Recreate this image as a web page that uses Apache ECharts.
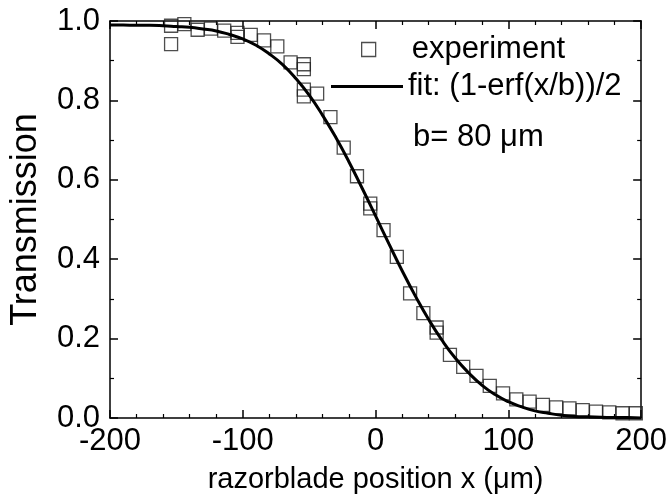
<!DOCTYPE html>
<html>
<head>
<meta charset="utf-8">
<script src="https://cdn.jsdelivr.net/npm/echarts@6/dist/echarts.min.js"></script>
<style>html,body{margin:0;padding:0;background:#fff}#c{width:670px;height:499px}</style>
</head>
<body>
<div id="c"></div>
<script>
// Experimental points (x in µm, transmission)
const expX = [-154,-154,-144,-134,-124,-114,-104,-104,-94,-84,-74,-64,-54,-54,-54,-54,-44,-34,-24,-14,-4,-4,6,16,26,36,46,46,56,66,76,86,96,106,116,126,136,146,156,166,176,186,196];
const expY = [0.988,0.942,0.992,0.978,0.981,0.976,0.970,0.960,0.965,0.951,0.936,0.896,0.891,0.879,0.827,0.810,0.817,0.758,0.681,0.609,0.540,0.528,0.473,0.406,0.314,0.264,0.228,0.215,0.159,0.129,0.106,0.081,0.062,0.047,0.041,0.033,0.027,0.024,0.020,0.016,0.014,0.012,0.012];
// Fit curve
const fitX = [-200,-190,-180,-170,-160,-150,-140,-130,-120,-110,-100,-90,-80,-70,-60,-50,-40,-30,-20,-10,0,10,20,30,40,50,60,70,80,90,100,110,120,130,140,150,160,170,180,190,200];
const fitY = [0.990,0.990,0.989,0.989,0.988,0.986,0.984,0.980,0.975,0.966,0.955,0.939,0.917,0.890,0.855,0.813,0.763,0.707,0.645,0.578,0.509,0.439,0.371,0.307,0.248,0.196,0.151,0.114,0.083,0.059,0.041,0.028,0.018,0.012,0.007,0.004,0.003,0.002,0.001,0.001,0.000];
const xTicks = [-200,-100,0,100,200];
const yTicks = [0.0,0.2,0.4,0.6,0.8,1.0];
const expName = 'experiment';
const fitName = 'fit: (1-erf(x/b))/2';
const noteText = 'b= 80 \u03bcm';

const FONT = 'Liberation Sans, Arial, sans-serif';
const chart = echarts.init(document.getElementById('c'), null, {renderer: 'canvas'});
const axLine = {show: true, onZero: false, lineStyle: {color: '#000', width: 1.5}};
const baseX = {
  type: 'value', min: xTicks[0], max: xTicks[xTicks.length-1], interval: 100,
  axisLine: axLine, splitLine: {show: false},
  axisTick: {show: true, inside: true, length: 8, lineStyle: {color: '#000', width: 1.5}},
  minorTick: {show: true, splitNumber: 5, length: 4, lineStyle: {color: '#000', width: 1.2}},
};
const baseY = {
  type: 'value', min: yTicks[0], max: yTicks[yTicks.length-1], interval: 0.2,
  axisLine: axLine, splitLine: {show: false},
  axisTick: {show: true, inside: true, length: 8, lineStyle: {color: '#000', width: 1.5}},
  minorTick: {show: true, splitNumber: 2, length: 4, lineStyle: {color: '#000', width: 1.2}},
};
chart.setOption({
  animation: false,
  backgroundColor: '#fff',
  grid: {left: 102, right: 27, top: 21, bottom: 81, containLabel: false},
  xAxis: [
    Object.assign({}, baseX, {
      position: 'bottom',
      axisLabel: {show: true, fontSize: 31, fontFamily: FONT, color: '#000', margin: 8,
        formatter: v => String(v)},
      name: 'razorblade position x (\u03bcm)', nameLocation: 'middle', nameGap: 47,
      nameTextStyle: {fontSize: 29, fontFamily: FONT, color: '#000'}
    }),
    Object.assign({}, baseX, {position: 'top', axisLabel: {show: false}})
  ],
  yAxis: [
    Object.assign({}, baseY, {
      position: 'left',
      axisLabel: {show: true, fontSize: 31, fontFamily: FONT, color: '#000', margin: 10,
        formatter: v => v.toFixed(1)},
      name: 'Transmission', nameLocation: 'middle', nameGap: 66,
      nameTextStyle: {fontSize: 36, fontFamily: FONT, color: '#000'}
    }),
    Object.assign({}, baseY, {position: 'right', axisLabel: {show: false}})
  ],
  legend: [
    {data: [expName], left: 361, top: 34, padding: 0, itemWidth: 14, itemHeight: 14,
     icon: 'rect', itemStyle: {color: 'transparent', borderColor: '#222', borderWidth: 1.3},
     textStyle: {fontSize: 31, fontFamily: FONT, color: '#000', padding: [0,0,0,31]}},
    {data: [fitName], left: 331, top: 71, padding: 0, itemWidth: 72, itemHeight: 3,
     icon: 'rect', itemStyle: {color: '#000', borderWidth: 0},
     textStyle: {fontSize: 31, fontFamily: FONT, color: '#000'}}
  ],
  graphic: [
    {type: 'text', left: 413, top: 122, style: {text: noteText, fontSize: 31, fontFamily: FONT, fill: '#000'}}
  ],
  series: [
    {
      name: expName, type: 'scatter', xAxisIndex: 0, yAxisIndex: 0,
      symbol: 'rect', symbolSize: 13,
      itemStyle: {color: 'transparent', borderColor: '#222', borderWidth: 1.3},
      data: expX.map((x, i) => [x, expY[i]]), z: 2
    },
    {
      name: fitName, type: 'line', xAxisIndex: 0, yAxisIndex: 0,
      showSymbol: false, symbol: 'none', smooth: true,
      lineStyle: {color: '#000', width: 3},
      itemStyle: {color: '#000'},
      data: fitX.map((x, i) => [x, fitY[i]]), z: 3
    }
  ]
});
</script>
</body>
</html>
